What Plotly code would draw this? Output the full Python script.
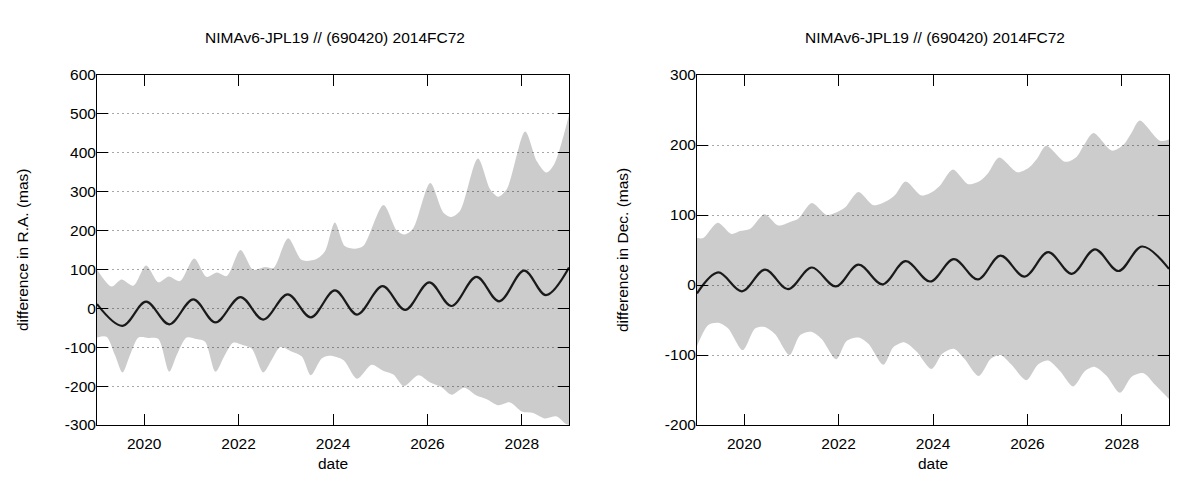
import plotly.graph_objects as go

TITLE = "NIMAv6-JPL19 // (690420) 2014FC72"

# ---- Left panel: R.A. ----
ra_up_t = [2019.00, 2019.31, 2019.52, 2019.77, 2020.04, 2020.30, 2020.52, 2020.76, 2021.06, 2021.32,
           2021.54, 2021.75, 2022.04, 2022.31, 2022.56, 2022.74, 2023.05, 2023.34, 2023.65, 2023.83,
           2024.04, 2024.25, 2024.46, 2024.64, 2025.07, 2025.35, 2025.52, 2025.70, 2026.06, 2026.34,
           2026.51, 2026.69, 2027.07, 2027.33, 2027.50, 2027.68, 2028.07, 2028.32, 2028.52, 2028.68, 2029.00]
ra_up_v = [100, 56, 74, 58, 110, 67, 82, 70, 128, 81,
           92, 83, 150, 99, 106, 104, 180, 124, 127, 147,
           221, 160, 153, 160, 266, 201, 190, 206, 322, 246,
           235, 250, 385, 306, 287, 306, 455, 378, 349, 369, 497]

ra_lo_t = [2019.00, 2019.20, 2019.38, 2019.54, 2019.70, 2019.88, 2020.09, 2020.30, 2020.53, 2020.69,
           2020.90, 2021.11, 2021.29, 2021.51, 2021.71, 2021.89, 2022.10, 2022.28, 2022.52, 2022.70,
           2022.88, 2023.12, 2023.34, 2023.53, 2023.76, 2023.92, 2024.22, 2024.51, 2024.82, 2025.07,
           2025.28, 2025.50, 2025.81, 2026.05, 2026.30, 2026.51, 2026.78, 2027.04, 2027.25, 2027.50,
           2027.75, 2028.00, 2028.24, 2028.49, 2028.74, 2028.92, 2029.00]
ra_lo_v = [-75, -73, -120, -165, -120, -75, -76, -79, -163, -120,
           -75, -79, -86, -163, -120, -88, -95, -104, -165, -133,
           -100, -111, -124, -172, -129, -122, -133, -181, -145, -161,
           -170, -200, -172, -190, -203, -222, -204, -224, -233, -249,
           -242, -265, -269, -283, -278, -296, -300]

ra_mid_t = [2019.00, 2019.54, 2020.04, 2020.53, 2021.04, 2021.51, 2022.04, 2022.52, 2023.04, 2023.53,
            2024.04, 2024.51, 2025.05, 2025.53, 2026.04, 2026.51, 2027.04, 2027.52, 2028.05, 2028.51, 2029.00]
ra_mid_v = [11, -45, 17, -41, 23, -36, 29, -29, 36, -23,
            46, -16, 57, -4, 67, 6, 81, 18, 97, 34, 105]

# ---- Right panel: Dec. ----
dec_up_t = [2019.00, 2019.13, 2019.44, 2019.73, 2019.91, 2020.12, 2020.43, 2020.72, 2020.97, 2021.15,
            2021.43, 2021.75, 2021.96, 2022.14, 2022.42, 2022.74, 2023.02, 2023.20, 2023.42, 2023.76,
            2024.01, 2024.15, 2024.42, 2024.75, 2025.00, 2025.17, 2025.40, 2025.79, 2026.02, 2026.20,
            2026.40, 2026.80, 2027.04, 2027.20, 2027.40, 2027.79, 2028.03, 2028.21, 2028.38, 2028.81, 2029.00]
dec_up_v = [67, 67, 89, 73, 77, 80, 101, 85, 90, 95,
            117, 100, 104, 111, 133, 114, 120, 129, 148, 128,
            134, 142, 165, 144, 149, 160, 182, 161, 167, 180,
            199, 176, 183, 200, 217, 192, 200, 218, 235, 206, 208]

dec_lo_t = [2019.00, 2019.24, 2019.45, 2019.66, 2019.97, 2020.23, 2020.43, 2020.65, 2020.96, 2021.18,
            2021.43, 2021.64, 2021.95, 2022.17, 2022.42, 2022.63, 2022.95, 2023.16, 2023.40, 2023.65,
            2023.97, 2024.20, 2024.44, 2024.66, 2024.97, 2025.23, 2025.43, 2025.65, 2025.98, 2026.22,
            2026.44, 2026.69, 2026.97, 2027.22, 2027.43, 2027.68, 2027.96, 2028.21, 2028.46, 2028.71, 2029.00]
dec_lo_v = [-87, -57, -54, -62, -93, -62, -60, -70, -100, -72,
            -67, -77, -106, -80, -75, -84, -114, -89, -82, -95,
            -120, -98, -91, -105, -130, -105, -100, -113, -136, -114,
            -108, -123, -145, -123, -117, -130, -154, -131, -126, -143, -163]

dec_mid_t = [2019.00, 2019.45, 2019.95, 2020.44, 2020.93, 2021.43, 2021.94, 2022.42, 2022.93, 2023.42,
             2023.94, 2024.44, 2024.95, 2025.43, 2025.94, 2026.44, 2026.94, 2027.43, 2027.93, 2028.43, 2029.00]
dec_mid_v = [-12, 18, -9, 22, -6, 25, -2, 29, 1, 34,
             5, 37, 8, 42, 12, 47, 16, 51, 20, 55, 23]

x_ticks = [2020, 2022, 2024, 2026, 2028]
ra_ticks = [-300, -200, -100, 0, 100, 200, 300, 400, 500, 600]
dec_ticks = [-200, -100, 0, 100, 200, 300]

FONT = "Liberation Sans, Arial, Helvetica, sans-serif"
BAND = "rgba(0,0,0,0.2)"
LINE = "#1a1a1a"
OFF = 8  # page body margin in px

def px(x):
    return (x - OFF) / 1200

def py(y):
    return 1 - (y - OFF) / 480

fig = go.Figure()

def add_panel(xa, ya, lo_t, lo_v, up_t, up_v, mid_t, mid_v):
    fig.add_trace(go.Scatter(x=lo_t, y=lo_v, mode="lines", line=dict(width=0, shape="spline", smoothing=0.8),
                             xaxis=xa, yaxis=ya, showlegend=False, hoverinfo="skip"))
    fig.add_trace(go.Scatter(x=up_t, y=up_v, mode="lines", line=dict(width=0, shape="spline", smoothing=0.8),
                             fill="tonexty", fillcolor=BAND,
                             xaxis=xa, yaxis=ya, showlegend=False, hoverinfo="skip"))
    fig.add_trace(go.Scatter(x=mid_t, y=mid_v, mode="lines",
                             line=dict(width=2.2, color=LINE, shape="spline", smoothing=1.0),
                             xaxis=xa, yaxis=ya, showlegend=False))

add_panel("x", "y", ra_lo_t, ra_lo_v, ra_up_t, ra_up_v, ra_mid_t, ra_mid_v)
add_panel("x2", "y2", dec_lo_t, dec_lo_v, dec_up_t, dec_up_v, dec_mid_t, dec_mid_v)

xcommon = dict(range=[2019, 2029], tickvals=x_ticks, ticktext=[str(t) for t in x_ticks],
               showgrid=False, zeroline=False, showline=True, linecolor="black", linewidth=1,
               mirror="ticks", ticks="inside", ticklen=11, tickcolor="black", tickwidth=1,
               ticklabelstandoff=4,
               tickfont=dict(family=FONT, size=15.5, color="black"), automargin=False)
ycommon = dict(showgrid=True, gridcolor="#a8a8a8", griddash="2px,3px", gridwidth=1,
               zeroline=False, showline=True, linecolor="black", linewidth=1,
               mirror="ticks", ticks="inside", ticklen=11, tickcolor="black", tickwidth=1,
               ticklabelstandoff=-3,
               tickfont=dict(family=FONT, size=15.5, color="black"), automargin=False)

fig.update_layout(
    width=1200, height=480,
    margin=dict(l=0, r=0, t=0, b=0),
    paper_bgcolor="white", plot_bgcolor="white",
    font=dict(family=FONT, size=15, color="black"),
    xaxis=dict(domain=[px(97), px(569)], anchor="y", **xcommon),
    yaxis=dict(domain=[py(425), py(75)], anchor="x", range=[-300, 600],
               tickvals=ra_ticks, ticktext=[str(t) for t in ra_ticks], **ycommon),
    xaxis2=dict(domain=[px(697), px(1169)], anchor="y2", **xcommon),
    yaxis2=dict(domain=[py(425), py(75)], anchor="x2", range=[-200, 300],
                tickvals=dec_ticks, ticktext=[str(t) for t in dec_ticks], **ycommon),
)

ann = [
    dict(text=TITLE, x=px(335), y=py(37)),
    dict(text=TITLE, x=px(935), y=py(37)),
    dict(text="date", x=px(333), y=py(463)),
    dict(text="date", x=px(933), y=py(463)),
    dict(text="difference in R.A. (mas)", x=px(22), y=py(250), textangle=-90),
    dict(text="difference in Dec. (mas)", x=px(622), y=py(250), textangle=-90),
]
for a in ann:
    fig.add_annotation(xref="paper", yref="paper", showarrow=False, xanchor="center", yanchor="middle",
                       font=dict(family=FONT, size=15.5, color="black"), **a)

fig.write_html("out.html")
